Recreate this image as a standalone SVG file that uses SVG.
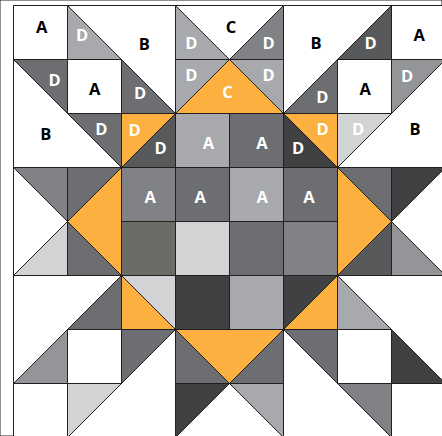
<svg xmlns="http://www.w3.org/2000/svg" width="442" height="436" viewBox="0 0 442 436">
<style>
polygon,rect{stroke:#231f20;stroke-width:1;stroke-linejoin:miter}
.w{fill:#ffffff}.o{fill:#fbb040}.l{fill:#d1d3d4}.g1{fill:#a7a9ac}.g2{fill:#939598}.g3{fill:#808285}.g4{fill:#6d6e71}.g5{fill:#58595b}.dk{fill:#414042}.wg{fill:#6b6b68}
text{font-family:"Open Sans","Liberation Sans",sans-serif;font-weight:700;font-size:16.5px;text-anchor:middle}
.tb{fill:#000000}.tw{fill:#ffffff}
</style>
<rect x="0" y="0" width="442" height="436" fill="#ffffff" stroke="none"/>
<g id="row0">
<rect class="w" x="13.5" y="5.5" width="54" height="54"/>
<polygon class="g1" points="67.5,5.5 67.5,59.5 121.5,59.5"/>
<polygon class="w" points="67.5,5.5 175.5,5.5 175.5,113.5"/>
<polygon class="g1" points="175.5,5.5 175.5,59.5 229.5,59.5"/>
<polygon class="w" points="175.5,5.5 283.5,5.5 229.5,59.5"/>
<polygon class="g3" points="283.5,5.5 283.5,59.5 229.5,59.5"/>
<polygon class="w" points="283.5,5.5 391.5,5.5 283.5,113.5"/>
<polygon class="g5" points="391.5,5.5 391.5,59.5 337.5,59.5"/>
<rect class="w" x="391.5" y="5.5" width="54" height="54"/>
</g>
<g id="row1">
<polygon class="g4" points="13.5,59.5 67.5,59.5 67.5,113.5"/>
<polygon class="w" points="13.5,59.5 13.5,167.5 121.5,167.5"/>
<rect class="w" x="67.5" y="59.5" width="54" height="54"/>
<polygon class="g4" points="121.5,59.5 121.5,113.5 175.5,113.5"/>
<polygon class="g1" points="175.5,59.5 229.5,59.5 175.5,113.5"/>
<polygon class="o" points="229.5,59.5 283.5,113.5 175.5,113.5"/>
<polygon class="g1" points="229.5,59.5 283.5,59.5 283.5,113.5"/>
<polygon class="g4" points="337.5,59.5 337.5,113.5 283.5,113.5"/>
<rect class="w" x="337.5" y="59.5" width="54" height="54"/>
<polygon class="g2" points="391.5,59.5 445.5,59.5 391.5,113.5"/>
<polygon class="w" points="445.5,59.5 445.5,167.5 337.5,167.5"/>
</g>
<g id="row2">
<polygon class="g4" points="67.5,113.5 121.5,113.5 121.5,167.5"/>
<polygon class="o" points="121.5,113.5 175.5,113.5 121.5,167.5"/>
<polygon class="g5" points="175.5,113.5 175.5,167.5 121.5,167.5"/>
<rect class="g1" x="175.5" y="113.5" width="54" height="54"/>
<rect class="g4" x="229.5" y="113.5" width="54" height="54"/>
<polygon class="o" points="283.5,113.5 337.5,113.5 337.5,167.5"/>
<polygon class="dk" points="283.5,113.5 337.5,167.5 283.5,167.5"/>
<polygon class="l" points="337.5,113.5 391.5,113.5 337.5,167.5"/>
</g>
<g id="rows3-4">
<polygon class="g3" points="13.5,167.5 67.5,167.5 67.5,221.5"/>
<polygon class="l" points="67.5,221.5 67.5,275.5 13.5,275.5"/>
<polygon class="w" points="13.5,167.5 67.5,221.5 13.5,275.5"/>
<polygon class="g4" points="67.5,167.5 121.5,167.5 67.5,221.5"/>
<polygon class="g4" points="67.5,221.5 121.5,275.5 67.5,275.5"/>
<polygon class="o" points="121.5,167.5 121.5,275.5 67.5,221.5"/>
<rect class="g3" x="121.5" y="167.5" width="54" height="54"/>
<rect class="g4" x="175.5" y="167.5" width="54" height="54"/>
<rect class="g1" x="229.5" y="167.5" width="54" height="54"/>
<rect class="g4" x="283.5" y="167.5" width="54" height="54"/>
<rect class="wg" x="121.5" y="221.5" width="54" height="54"/>
<rect class="l" x="175.5" y="221.5" width="54" height="54"/>
<rect class="g4" x="229.5" y="221.5" width="54" height="54"/>
<rect class="g3" x="283.5" y="221.5" width="54" height="54"/>
<polygon class="o" points="337.5,167.5 391.5,221.5 337.5,275.5"/>
<polygon class="g4" points="337.5,167.5 391.5,167.5 391.5,221.5"/>
<polygon class="g5" points="391.5,221.5 391.5,275.5 337.5,275.5"/>
<polygon class="dk" points="391.5,167.5 445.5,167.5 391.5,221.5"/>
<polygon class="g2" points="391.5,221.5 445.5,275.5 391.5,275.5"/>
<polygon class="w" points="445.5,167.5 445.5,275.5 391.5,221.5"/>
</g>
<g id="row5">
<polygon class="w" points="13.5,275.5 121.5,275.5 13.5,383.5"/>
<polygon class="g4" points="121.5,275.5 121.5,329.5 67.5,329.5"/>
<polygon class="o" points="121.5,275.5 175.5,329.5 121.5,329.5"/>
<polygon class="l" points="121.5,275.5 175.5,275.5 175.5,329.5"/>
<rect class="dk" x="175.5" y="275.5" width="54" height="54"/>
<rect class="g1" x="229.5" y="275.5" width="54" height="54"/>
<polygon class="dk" points="283.5,275.5 337.5,275.5 283.5,329.5"/>
<polygon class="o" points="337.5,275.5 337.5,329.5 283.5,329.5"/>
<polygon class="g1" points="337.5,275.5 391.5,329.5 337.5,329.5"/>
<polygon class="w" points="337.5,275.5 445.5,275.5 445.5,383.5"/>
</g>
<g id="row6">
<polygon class="g2" points="67.5,329.5 67.5,383.5 13.5,383.5"/>
<rect class="w" x="67.5" y="329.5" width="54" height="54"/>
<polygon class="g4" points="121.5,329.5 175.5,329.5 121.5,383.5"/>
<polygon class="w" points="175.5,329.5 175.5,437.5 67.5,437.5"/>
<polygon class="g4" points="175.5,329.5 229.5,383.5 175.5,383.5"/>
<polygon class="o" points="175.5,329.5 283.5,329.5 229.5,383.5"/>
<polygon class="g4" points="283.5,329.5 283.5,383.5 229.5,383.5"/>
<polygon class="g4" points="283.5,329.5 337.5,329.5 337.5,383.5"/>
<polygon class="w" points="283.5,329.5 391.5,437.5 283.5,437.5"/>
<rect class="w" x="337.5" y="329.5" width="54" height="54"/>
<polygon class="dk" points="391.5,329.5 445.5,383.5 391.5,383.5"/>
</g>
<g id="row7">
<rect class="w" x="13.5" y="383.5" width="54" height="54"/>
<polygon class="l" points="67.5,383.5 121.5,383.5 67.5,437.5"/>
<polygon class="dk" points="175.5,383.5 229.5,383.5 175.5,437.5"/>
<polygon class="w" points="175.5,437.5 229.5,383.5 283.5,437.5"/>
<polygon class="g1" points="229.5,383.5 283.5,383.5 283.5,437.5"/>
<polygon class="g3" points="337.5,383.5 391.5,383.5 391.5,437.5"/>
<rect class="w" x="391.5" y="383.5" width="54" height="54"/>
</g>
<g id="labels">
<text class="tb" x="41.7" y="33.3">A</text>
<text class="tw" x="82" y="41.3">D</text>
<text class="tb" x="144.3" y="50">B</text>
<text class="tw" x="191.3" y="49.3">D</text>
<text class="tb" x="231" y="32.7">C</text>
<text class="tw" x="268.7" y="49.3">D</text>
<text class="tb" x="316" y="49.3">B</text>
<text class="tw" x="370.7" y="49.3">D</text>
<text class="tb" x="419.3" y="40.7">A</text>
<text class="tw" x="54.7" y="86">D</text>
<text class="tb" x="94.7" y="94.7">A</text>
<text class="tw" x="140" y="98.7">D</text>
<text class="tw" x="191.3" y="81.3">D</text>
<text class="tw" x="227.5" y="97.5">C</text>
<text class="tw" x="268.7" y="81.3">D</text>
<text class="tw" x="322.3" y="103.3">D</text>
<text class="tb" x="365.3" y="94.7">A</text>
<text class="tw" x="407" y="82">D</text>
<text class="tb" x="45.8" y="140">B</text>
<text class="tw" x="101.3" y="135.3">D</text>
<text class="tw" x="134.7" y="135.7">D</text>
<text class="tw" x="160.7" y="154.3">D</text>
<text class="tw" x="208.5" y="149">A</text>
<text class="tw" x="262" y="148.7">A</text>
<text class="tw" x="298" y="154">D</text>
<text class="tw" x="322.7" y="135.3">D</text>
<text class="tw" x="358" y="135.3">D</text>
<text class="tb" x="415" y="135.3">B</text>
<text class="tw" x="150.3" y="203.3">A</text>
<text class="tw" x="200.3" y="203.3">A</text>
<text class="tw" x="262.3" y="203.3">A</text>
<text class="tw" x="309" y="203.3">A</text>
</g>
</svg>
